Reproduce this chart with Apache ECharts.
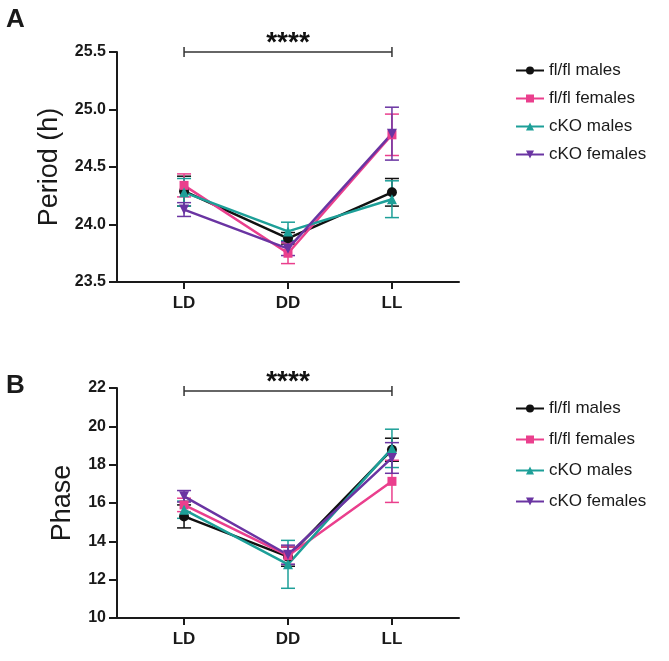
<!DOCTYPE html>
<html>
<head>
<meta charset="utf-8">
<script src="https://cdn.jsdelivr.net/npm/echarts@6/dist/echarts.min.js"></script>
<style>
  html, body { margin: 0; padding: 0; background: #fff; }
  #chart { width: 669px; height: 661px; }
</style>
</head>
<body>
<div id="chart"></div>
<script>
// conditions on x
const conditions = ['LD', 'DD', 'LL']
const groupNames = ['fl/fl males', 'fl/fl females', 'cKO males', 'cKO females']

// panel A: period (h), mean and error
const periodFlflMales = [24.29, 23.88, 24.28]
const periodFlflFemales = [24.34, 23.75, 24.78]
const periodCkoMales = [24.28, 23.94, 24.22]
const periodCkoFemales = [24.13, 23.79, 24.79]
const periodErrFlflMales = [0.13, 0.05, 0.12]
const periodErrFlflFemales = [0.10, 0.09, 0.18]
const periodErrCkoMales = [0.12, 0.08, 0.16]
const periodErrCkoFemales = [0.06, 0.06, 0.23]

// panel B: phase, mean and error
const phaseFlflMales = [15.30, 13.20, 18.78]
const phaseFlflFemales = [15.90, 13.25, 17.13]
const phaseCkoMales = [15.65, 12.80, 18.85]
const phaseCkoFemales = [16.35, 13.30, 18.35]
const phaseErrFlflMales = [0.60, 0.50, 0.60]
const phaseErrFlflFemales = [0.35, 0.45, 1.10]
const phaseErrCkoMales = [0.45, 1.25, 1.00]
const phaseErrCkoFemales = [0.30, 0.50, 0.80]

// significance brackets (LD vs LL)
const sigX = [0, 2]
const sigLabel = '****'
const sigYPeriod = 25.5
const sigYPhase = 21.85

const colors = ['#111111', '#ea3f8d', '#1d9f98', '#6a34a2']
const symbols = ['circle', 'rect', 'triangle', 'triangle']
const symbolRot = [0, 0, 0, 180]
const font = 'Liberation Sans, Arial, Helvetica, sans-serif'

const chart = echarts.init(document.getElementById('chart'))

function xAxisFor(gi) {
  return {
    type: 'value', gridIndex: gi, min: -0.645, max: 2.645,
    axisLine: { onZero: false, lineStyle: { color: '#1a1a1a', width: 2 } },
    axisTick: { customValues: [0, 1, 2], length: 7, lineStyle: { color: '#1a1a1a', width: 2 } },
    axisLabel: {
      customValues: [0, 1, 2], margin: 13,
      formatter: v => conditions[Math.round(v)],
      color: '#1a1a1a', fontWeight: 'bold', fontSize: 17, fontFamily: font
    },
    splitLine: { show: false }
  }
}

function yAxisFor(gi, min, max, step, name, gap, digits) {
  return {
    type: 'value', gridIndex: gi, min: min, max: max, interval: step,
    name: name, nameLocation: 'middle', nameGap: gap,
    nameTextStyle: { color: '#1a1a1a', fontSize: 27, fontFamily: font },
    axisLine: { show: true, onZero: false, lineStyle: { color: '#1a1a1a', width: 2 } },
    axisTick: { show: true, length: 8, lineStyle: { color: '#1a1a1a', width: 2 } },
    axisLabel: {
      margin: 11, color: '#1a1a1a', fontWeight: 'bold', fontSize: 16, fontFamily: font,
      formatter: v => v.toFixed(digits)
    },
    splitLine: { show: false }
  }
}

function errorSeries(gi, means, errs, color) {
  return {
    type: 'custom', xAxisIndex: gi, yAxisIndex: gi, z: 3, silent: true,
    data: means.map((m, i) => [i, m - errs[i], m + errs[i]]),
    renderItem: (params, api) => {
      const lo = api.coord([api.value(0), api.value(1)])
      const hi = api.coord([api.value(0), api.value(2)])
      const w = 7
      const st = { stroke: color, lineWidth: 1.5 }
      return {
        type: 'group',
        children: [
          { type: 'line', shape: { x1: lo[0], y1: lo[1], x2: hi[0], y2: hi[1] }, style: st },
          { type: 'line', shape: { x1: lo[0] - w, y1: lo[1], x2: lo[0] + w, y2: lo[1] }, style: st },
          { type: 'line', shape: { x1: hi[0] - w, y1: hi[1], x2: hi[0] + w, y2: hi[1] }, style: st }
        ]
      }
    }
  }
}

function lineSeries(gi, idx, means) {
  return {
    name: groupNames[idx], type: 'line', xAxisIndex: gi, yAxisIndex: gi, z: 4,
    data: means.map((m, i) => [i, m]),
    symbol: symbols[idx], symbolRotate: symbolRot[idx], symbolSize: idx === 1 ? 9 : 10,
    itemStyle: { color: colors[idx] },
    lineStyle: { color: colors[idx], width: 2.5 },
    animation: false
  }
}

function sigSeries(gi, y) {
  return {
    type: 'custom', xAxisIndex: gi, yAxisIndex: gi, silent: true,
    data: [[sigX[0], sigX[1], y]],
    renderItem: (params, api) => {
      const a = api.coord([api.value(0), api.value(2)])
      const b = api.coord([api.value(1), api.value(2)])
      const st = { stroke: '#333', lineWidth: 1.5 }
      return {
        type: 'group',
        children: [
          { type: 'line', shape: { x1: a[0], y1: a[1], x2: b[0], y2: b[1] }, style: st },
          { type: 'line', shape: { x1: a[0], y1: a[1] - 5, x2: a[0], y2: a[1] + 5 }, style: st },
          { type: 'line', shape: { x1: b[0], y1: b[1] - 5, x2: b[0], y2: b[1] + 5 }, style: st },
          {
            type: 'text',
            style: {
              x: (a[0] + b[0]) / 2, y: a[1] - 9, text: sigLabel,
              fill: '#111', font: 'bold 28px ' + font, align: 'center', verticalAlign: 'middle'
            }
          }
        ]
      }
    }
  }
}

function legendFor(top, gap) {
  return {
    left: 510, top: top, orient: 'vertical',
    data: groupNames, itemWidth: 28, itemHeight: 10, itemGap: gap,
    textStyle: { color: '#1a1a1a', fontSize: 17, fontFamily: font },
    selectedMode: false
  }
}

const periodMeans = [periodFlflMales, periodFlflFemales, periodCkoMales, periodCkoFemales]
const periodErrs = [periodErrFlflMales, periodErrFlflFemales, periodErrCkoMales, periodErrCkoFemales]
const phaseMeans = [phaseFlflMales, phaseFlflFemales, phaseCkoMales, phaseCkoFemales]
const phaseErrs = [phaseErrFlflMales, phaseErrFlflFemales, phaseErrCkoMales, phaseErrCkoFemales]

const series = []
for (let k = 0; k < 4; k++) series.push(errorSeries(0, periodMeans[k], periodErrs[k], colors[k]))
for (let k = 0; k < 4; k++) series.push(lineSeries(0, k, periodMeans[k]))
for (let k = 0; k < 4; k++) series.push(errorSeries(1, phaseMeans[k], phaseErrs[k], colors[k]))
for (let k = 0; k < 4; k++) series.push(lineSeries(1, k, phaseMeans[k]))
series.push(sigSeries(0, sigYPeriod))
series.push(sigSeries(1, sigYPhase))

const option = {
  backgroundColor: '#fff',
  animation: false,
  grid: [
    { left: 117, top: 52, width: 342, height: 230 },
    { left: 117, top: 388, width: 342, height: 230 }
  ],
  xAxis: [xAxisFor(0), xAxisFor(1)],
  yAxis: [
    yAxisFor(0, 23.5, 25.5, 0.5, 'Period (h)', 54, 1),
    yAxisFor(1, 10, 22, 2, 'Phase', 41, 0)
  ],
  legend: [legendFor(57, 11), legendFor(395, 14)],
  graphic: [
    { type: 'text', left: 6, top: 7, style: { text: 'A', font: 'bold 26px ' + font, fill: '#1a1a1a' } },
    { type: 'text', left: 6, top: 373, style: { text: 'B', font: 'bold 26px ' + font, fill: '#1a1a1a' } }
  ],
  series: series
}

chart.setOption(option)
</script>
</body>
</html>
